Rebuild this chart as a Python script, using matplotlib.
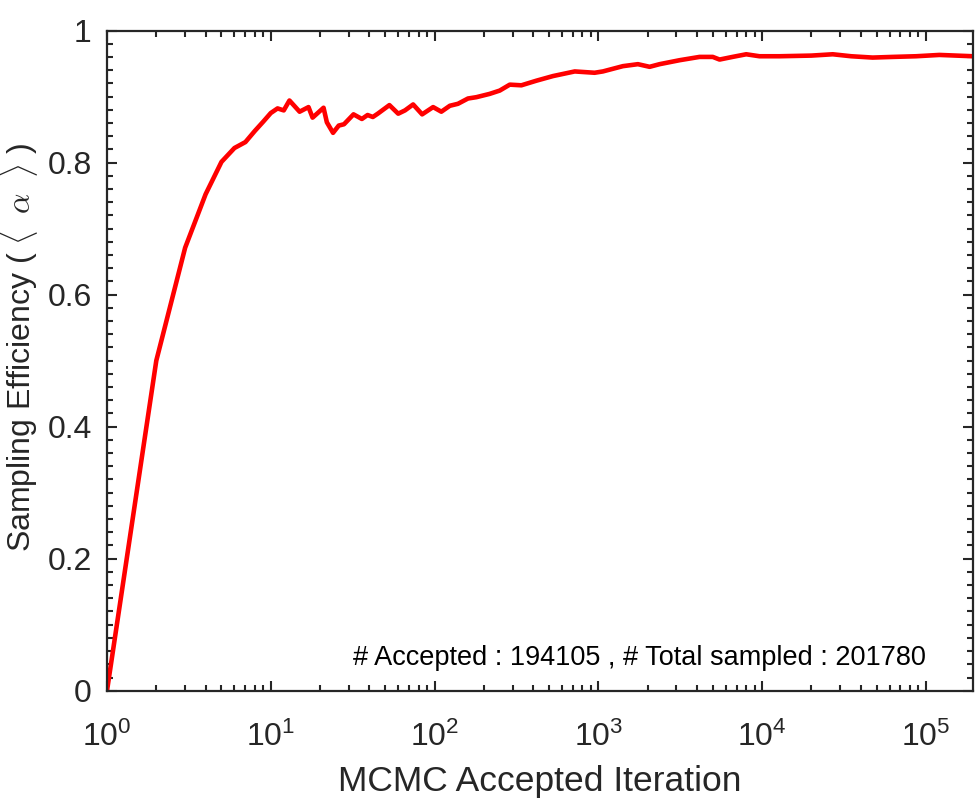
import matplotlib.pyplot as plt
from matplotlib.ticker import LogLocator, MultipleLocator, NullFormatter

plt.rcParams['font.family'] = ['Liberation Sans', 'DejaVu Sans']
plt.rcParams['mathtext.fontset'] = 'cm'

# accepted iteration vs running mean acceptance
iteration = [1, 2, 3, 4, 5, 6, 7, 8, 9, 10, 11, 12, 13, 15, 17, 18, 21, 22, 24,
             26, 28, 32, 36, 39, 42, 45, 53, 60, 66, 74, 84, 98, 110, 124, 139,
             160, 180, 217, 250, 288, 339, 419, 529, 718, 949, 1066, 1413, 1745,
             2057, 2367, 3135, 4150, 5000, 5500, 6600, 8000, 9640, 12770, 20000,
             27000, 35000, 47300, 62700, 87100, 120900, 194105]
efficiency = [0.0, 0.500, 0.671, 0.752, 0.801, 0.822, 0.831, 0.848, 0.862, 0.875,
              0.882, 0.879, 0.894, 0.877, 0.884, 0.868, 0.883, 0.861, 0.845, 0.856,
              0.858, 0.873, 0.866, 0.872, 0.869, 0.874, 0.887, 0.874, 0.879, 0.888,
              0.873, 0.884, 0.877, 0.886, 0.889, 0.897, 0.899, 0.904, 0.909, 0.918,
              0.917, 0.924, 0.931, 0.938, 0.936, 0.938, 0.946, 0.949, 0.945, 0.949,
              0.955, 0.960, 0.960, 0.956, 0.960, 0.964, 0.961, 0.961, 0.962, 0.964,
              0.961, 0.959, 0.960, 0.961, 0.963, 0.961]
n_accepted = 194105
n_total = 201780

dark = '#262626'
fig = plt.figure(figsize=(9.79, 8.07), dpi=100)
ax = fig.add_axes([0.1093, 0.1441, 0.8846, 0.8181])

ax.plot(iteration, efficiency, color='red', linewidth=3.3)
ax.set_xscale('log')
ax.set_xlim(1, n_accepted)
ax.set_ylim(0, 1)

ax.xaxis.set_major_locator(LogLocator(base=10, numticks=10))
ax.xaxis.set_minor_locator(LogLocator(base=10, subs=range(2, 10), numticks=20))
ax.xaxis.set_minor_formatter(NullFormatter())
ax.yaxis.set_major_locator(MultipleLocator(0.2))
ax.yaxis.set_minor_locator(MultipleLocator(0.02))
ax.set_yticks([0, 0.2, 0.4, 0.6, 0.8, 1])
ax.set_yticklabels(['0', '0.2', '0.4', '0.6', '0.8', '1'])

ax.tick_params(which='both', direction='in', top=True, right=True, colors=dark,
               labelcolor=dark, width=1.5)
ax.tick_params(which='major', length=7, labelsize=23)
ax.tick_params(which='minor', length=4)
ax.tick_params(axis='x', which='major', pad=22)
ax.tick_params(axis='y', which='major', pad=11)
for s in ax.spines.values():
    s.set_linewidth(1.6)
    s.set_color(dark)

ax.set_xlabel('MCMC Accepted Iteration', fontsize=25.5, color=dark, labelpad=9)
ax.set_ylabel(r'Sampling Efficiency ( $\langle\;\;\alpha\;\;\rangle$ )', fontsize=23,
              color=dark, va='baseline')
ax.yaxis.set_label_coords(-0.088, 0.52)

ax.text(0.946, 0.05, '# Accepted : %d , # Total sampled : %d' % (n_accepted, n_total),
        transform=ax.transAxes, ha='right', va='center', fontsize=19.5, color='black')

fig.savefig('out.png', dpi=100)
